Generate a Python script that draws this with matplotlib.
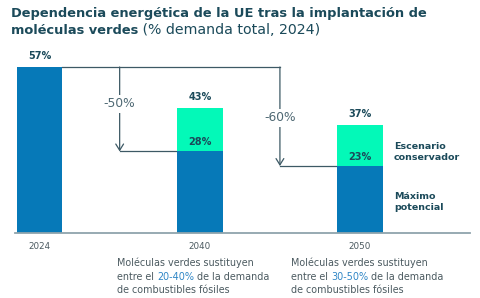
import matplotlib
matplotlib.use("Agg")
import matplotlib.pyplot as plt
import matplotlib.transforms as mtransforms

plt.rcParams['font.family'] = ['DejaVu Sans']

# -------------------------------
# data
years = ["2024", "2040", "2050"]
max_potencial = [57, 28, 23]      # blue part
conservador = [57, 43, 37]        # total with green part
reductions = ["-50%", "-60%"]
ranges = ["20-40%", "30-50%"]

# -------------------------------
# colours
BLUE = "#0679b8"
GREEN = "#03f9b8"
DARK = "#1b4a5a"
LINE = "#3d5965"
GREY = "#4b5a60"
LINK = "#2f86c6"

fig = plt.figure(figsize=(4.8, 2.98), dpi=100)
ax = fig.add_axes([15/480, 65/298, 455/480, 166/298])

x = range(len(years))
w = 0.284
green_part = [c - m for c, m in zip(conservador, max_potencial)]
ax.bar(x, max_potencial, width=w, color=BLUE, zorder=2)
ax.bar(x, green_part, bottom=max_potencial, width=w, color=GREEN, zorder=2)

ax.set_xlim(-0.153, 2.686)
ax.set_ylim(0, 57)
for s in ["top", "left", "right"]:
    ax.spines[s].set_visible(False)
ax.spines["bottom"].set_color("#8fa4ac")
ax.spines["bottom"].set_linewidth(1.3)
ax.set_yticks([])
ax.set_xticks(list(x), years)
ax.tick_params(axis="x", length=0, pad=6.5, labelsize=6.3, labelcolor=GREY)

# value labels on top
for i in x:
    ax.annotate(f"{conservador[i]}%", (i, conservador[i]), xytext=(0, 8),
                textcoords="offset points", ha="center", va="center",
                fontsize=7, fontweight="bold", color=DARK, annotation_clip=False)
    if green_part[i] > 0:
        ax.annotate(f"{max_potencial[i]}%", (i, max_potencial[i]), xytext=(0, 6.5),
                    textcoords="offset points", ha="center", va="center",
                    fontsize=7, fontweight="bold", color=DARK)

# reduction arrows
top = max_potencial[0]
ax.plot([w/2, 1.5], [top, top], color=LINE, lw=0.9, zorder=1, clip_on=False)
for k, i in enumerate([1, 2]):
    xa = i - 0.5
    ax.annotate("", xy=(xa, max_potencial[i]), xytext=(xa, top),
                arrowprops=dict(arrowstyle="->,head_length=0.45,head_width=0.28",
                                color=LINE, lw=0.9, shrinkA=0, shrinkB=0),
                annotation_clip=False)
    ax.plot([xa, i - w/2], [max_potencial[i]] * 2, color=LINE, lw=0.9, zorder=1)
    ymid = [44.3, 39.5][k]
    ax.text(xa, ymid, reductions[k], ha="center", va="center", fontsize=8.8,
            color="#4e6873", bbox=dict(fc="white", ec="none", pad=1.5), zorder=3)

# legend texts next to last bar
ax.text(2.212, 27.7, "Escenario\nconservador", ha="left", va="center",
        fontsize=6.8, fontweight="bold", color=DARK, linespacing=1.3)
ax.text(2.212, 10.5, "Máximo\npotencial", ha="left", va="center",
        fontsize=6.8, fontweight="bold", color=DARK, linespacing=1.3)

# descriptions under 2040 / 2050
tr = mtransforms.blended_transform_factory(ax.transData, fig.transFigure)
for i, xs in zip([1, 2], [0.484, 1.569]):
    kw = dict(fontsize=6.9, color=GREY, va="center", ha="left")
    ax.text(xs, 1 - 263/298, "Moléculas verdes sustituyen", transform=tr, **kw)
    t1 = ax.text(xs, 1 - 277/298, "entre el ", transform=tr, **kw)
    t2 = ax.annotate(ranges[i-1], xy=(1, 0), xycoords=t1, va="bottom", ha="left",
                     fontsize=6.9, color=LINK)
    ax.annotate(" de la demanda", xy=(1, 0), xycoords=t2, va="bottom", ha="left",
                fontsize=6.9, color=GREY)
    ax.text(xs, 1 - 290/298, "de combustibles fósiles", transform=tr, **kw)

# title
fig.text(11/480, 1 - 13/298, "Dependencia energética de la UE tras la implantación de",
         fontsize=9.35, fontweight="bold", color=DARK, va="center", ha="left")
tt = fig.text(11/480, 1 - 30/298, "moléculas verdes", fontsize=9.35,
              fontweight="bold", color=DARK, va="center", ha="left")
ax.annotate(" (% demanda total, 2024)", xy=(1, 0), xycoords=tt, va="bottom",
            ha="left", fontsize=10.2, color=DARK, annotation_clip=False)

fig.savefig("out.png", dpi=100)
